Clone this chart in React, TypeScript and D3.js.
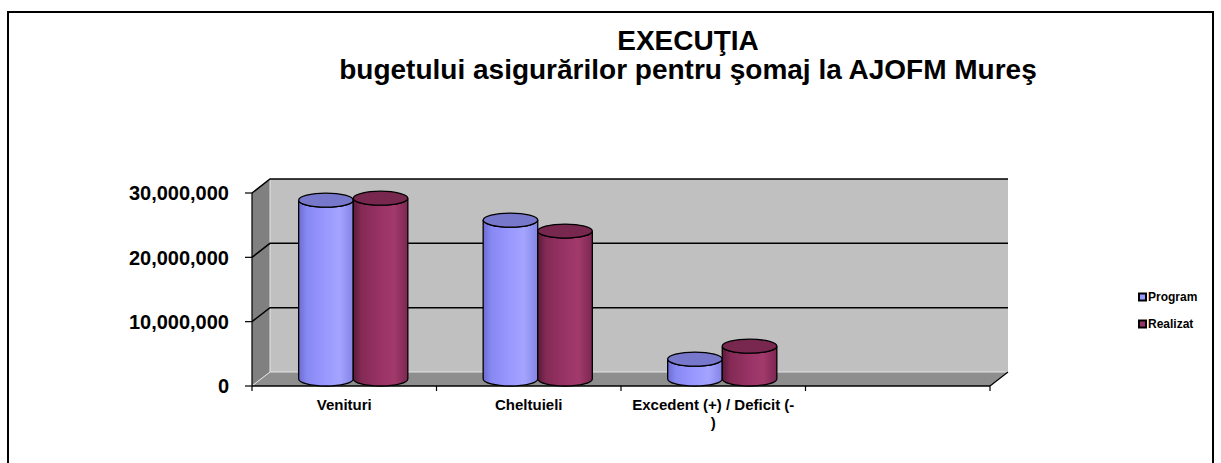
import React, { useEffect, useRef } from "react";
import * as d3 from "d3";

// chart data
const titleLines = ["EXECUŢIA", "bugetului asigurărilor pentru şomaj la AJOFM Mureş"];
const categories = ["Venituri", "Cheltuieli", "Excedent (+) / Deficit (-)", ""];
const categoryLabelLines = [["Venituri"], ["Cheltuieli"], ["Excedent (+) / Deficit (-", ")"], []];
const seriesNames = ["Program", "Realizat"];
const programValues = [27800000, 24700000, 3100000, null];
const realizatValues = [28100000, 23000000, 5100000, null];
const yTicks = [0, 10000000, 20000000, 30000000];

const FONT = "'Liberation Sans', Arial, sans-serif";

const App = () => {
  const ref = useRef<SVGSVGElement | null>(null);

  useEffect(() => {
    const width = 1221;
    const height = 463;
    // front plane of the 3d plot
    const plot = { left: 252, right: 990, bottom: 386, top: 193 };
    const depth = { dx: 18, dy: -14 };

    const svg = d3.select(ref.current).attr("width", width).attr("height", height);
    svg.selectAll("*").remove();

    const y = d3.scaleLinear().domain([0, 30000000]).range([plot.bottom, plot.top]);
    const x = d3.scaleBand().domain(categories).range([plot.left, plot.right]);
    const sub = d3.scaleBand().domain(seriesNames).range([0, x.bandwidth()]).paddingOuter(0.69);

    const colors = {
      Program: { side: ["#6c6cd2", "#8888f2", "#9999ff", "#a4a4ff", "#8383e6"], top: "#7777cc" },
      Realizat: { side: ["#5c1a3a", "#842a55", "#993366", "#a23a6c", "#7c2752"], top: "#78284f" },
    };

    const defs = svg.append("defs");
    seriesNames.forEach((s) => {
      const g = defs.append("linearGradient").attr("id", "grad-" + s).attr("x1", 0).attr("x2", 1).attr("y1", 0).attr("y2", 0);
      const stops = [0, 0.15, 0.5, 0.75, 1];
      stops.forEach((o, i) => g.append("stop").attr("offset", o).attr("stop-color", colors[s].side[i]));
    });

    // outer frame
    svg.append("path")
      .attr("d", `M8,${height + 5} L8,12 L1213,12 L1213,${height + 5}`)
      .attr("fill", "none").attr("stroke", "#000").attr("stroke-width", 2);

    // title
    svg.append("g").selectAll("text").data(titleLines).join("text")
      .attr("x", 688).attr("y", (d, i) => 50 + i * 29)
      .attr("text-anchor", "middle")
      .attr("font-family", FONT).attr("font-weight", "bold").attr("font-size", 28)
      .text((d) => d);

    const yMax = 30000000;
    const bl = plot.left + depth.dx;
    const br = plot.right + depth.dx;

    // walls
    svg.append("rect")
      .attr("x", bl).attr("y", y(yMax) + depth.dy)
      .attr("width", br - bl).attr("height", y(0) - y(yMax))
      .attr("fill", "#c0c0c0");
    svg.append("polygon")
      .attr("points", [[plot.left, y(0)], [bl, y(0) + depth.dy], [bl, y(yMax) + depth.dy], [plot.left, y(yMax)]].join(" "))
      .attr("fill", "#808080");
    svg.append("polygon")
      .attr("points", [[plot.left, y(0)], [plot.right, y(0)], [br, y(0) + depth.dy], [bl, y(0) + depth.dy]].join(" "))
      .attr("fill", "#8e8e8e");

    // light edges
    svg.append("path")
      .attr("d", `M${plot.left + 1},${y(0) - 1} L${bl},${y(0) + depth.dy} L${br},${y(0) + depth.dy} M${bl},${y(0) + depth.dy} L${bl},${y(yMax) + depth.dy}`)
      .attr("fill", "none").attr("stroke", "#e4e4e4").attr("stroke-width", 1);

    // gridlines
    svg.append("g").selectAll("path").data(yTicks.filter((t) => t > 0)).join("path")
      .attr("d", (t) => `M${plot.left},${y(t)} L${bl},${y(t) + depth.dy} L${br},${y(t) + depth.dy}`)
      .attr("fill", "none").attr("stroke", "#000").attr("stroke-width", 1.5);

    // floor right edge
    svg.append("line")
      .attr("x1", plot.right).attr("y1", y(0)).attr("x2", br).attr("y2", y(0) + depth.dy)
      .attr("stroke", "#000").attr("stroke-width", 1.2);

    // y axis
    svg.append("line")
      .attr("x1", plot.left).attr("x2", plot.left).attr("y1", y(yMax)).attr("y2", y(0))
      .attr("stroke", "#000").attr("stroke-width", 1.2);
    const yAxis = svg.append("g");
    yAxis.selectAll("line").data(yTicks).join("line")
      .attr("x1", plot.left - 7).attr("x2", plot.left).attr("y1", (t) => y(t)).attr("y2", (t) => y(t))
      .attr("stroke", "#000").attr("stroke-width", 1.2);
    yAxis.selectAll("text").data(yTicks).join("text")
      .attr("x", 229).attr("y", (t) => y(t)).attr("dy", "0.36em")
      .attr("text-anchor", "end")
      .attr("font-family", FONT).attr("font-weight", "bold").attr("font-size", 20)
      .text((t) => d3.format(",")(t));

    // category axis
    svg.append("line")
      .attr("x1", plot.left).attr("x2", plot.right).attr("y1", y(0)).attr("y2", y(0))
      .attr("stroke", "#000").attr("stroke-width", 1.5);
    const bounds = categories.map((c) => x(c)).concat([plot.right]);
    svg.append("g").selectAll("line").data(bounds).join("line")
      .attr("x1", (d) => d).attr("x2", (d) => d).attr("y1", y(0)).attr("y2", y(0) + 5)
      .attr("stroke", "#000").attr("stroke-width", 1.2);
    const labels = svg.append("g");
    categories.forEach((c, i) => {
      categoryLabelLines[i].forEach((line, j) => {
        labels.append("text")
          .attr("x", x(c) + x.bandwidth() / 2).attr("y", 410 + j * 18)
          .attr("text-anchor", "middle")
          .attr("font-family", FONT).attr("font-weight", "bold").attr("font-size", 15)
          .text(line);
      });
    });

    // cylinders
    const bars = [];
    categories.forEach((c, i) => {
      [programValues, realizatValues].forEach((vals, k) => {
        if (vals[i] == null) return;
        bars.push({ cat: c, series: seriesNames[k], value: vals[i] });
      });
    });
    const ry = Math.abs(depth.dy) / 2;
    const g = svg.append("g");
    bars.forEach((b) => {
      const x0 = x(b.cat) + sub(b.series) + depth.dx / 2;
      const w = sub.bandwidth();
      const rx = w / 2;
      const baseY = y(0) + depth.dy / 2;
      const topY = y(b.value) + depth.dy / 2;
      g.append("path")
        .attr("d", `M${x0},${topY} L${x0},${baseY} A${rx},${ry} 0 0 0 ${x0 + w},${baseY} L${x0 + w},${topY} A${rx},${ry} 0 0 1 ${x0},${topY} Z`)
        .attr("fill", `url(#grad-${b.series})`)
        .attr("stroke", "#000").attr("stroke-width", 1.3);
      g.append("ellipse")
        .attr("cx", x0 + rx).attr("cy", topY).attr("rx", rx).attr("ry", ry)
        .attr("fill", colors[b.series].top)
        .attr("stroke", "#000").attr("stroke-width", 1.3);
    });

    // legend
    const legend = svg.append("g");
    seriesNames.forEach((s, i) => {
      const cy = 297 + i * 27;
      legend.append("rect")
        .attr("x", 1139).attr("y", cy - 3.5).attr("width", 7).attr("height", 7)
        .attr("fill", colors[s].side[2]).attr("stroke", "#000").attr("stroke-width", 2);
      legend.append("text")
        .attr("x", 1148).attr("y", cy).attr("dy", "0.36em")
        .attr("font-family", FONT).attr("font-weight", "bold").attr("font-size", 12)
        .text(s);
    });
  }, []);

  return <svg ref={ref} style={{ position: "absolute", left: 0, top: 0 }}></svg>;
};

export default App;
